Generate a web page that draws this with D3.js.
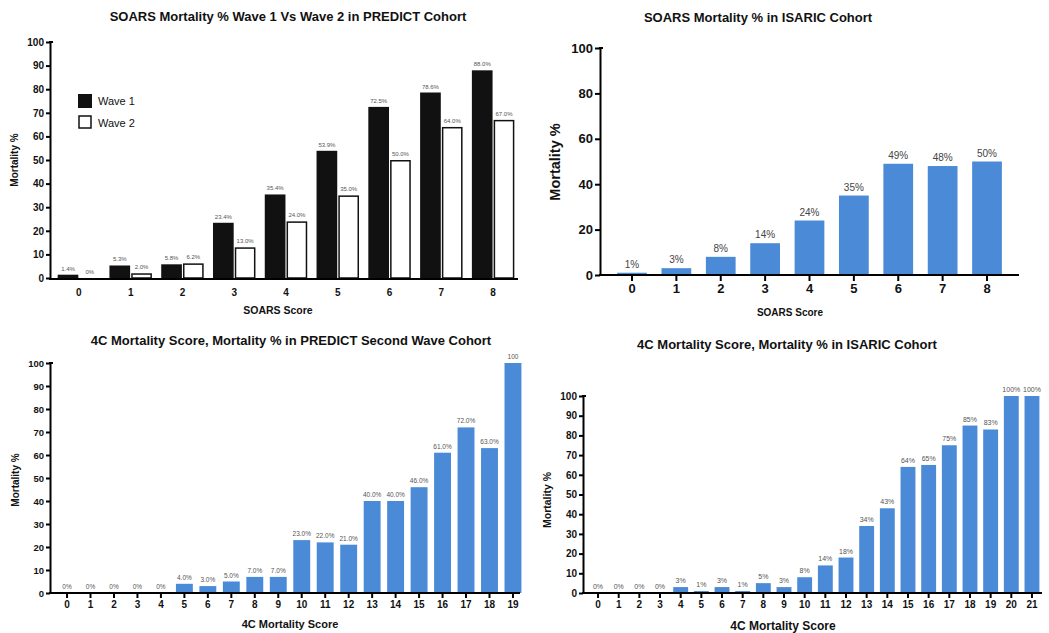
<!DOCTYPE html>
<html><head><meta charset="utf-8">
<script src="https://cdn.jsdelivr.net/npm/d3@7"></script>
<style>body{margin:0;background:#fff;} svg{display:block;}</style>
</head><body>
<svg id="c" width="1049" height="633"></svg>
<script>
// ---------- DATA ----------
const soarsScores = ["0","1","2","3","4","5","6","7","8"];
const predictWave1 = [1.4, 5.3, 5.8, 23.4, 35.4, 53.9, 72.5, 78.6, 88.0];
const predictWave2 = [0, 2.0, 6.2, 13.0, 24.0, 35.0, 50.0, 64.0, 67.0];
const predictWave1Labels = ["1.4%","5.3%","5.8%","23.4%","35.4%","53.9%","72.5%","78.6%","88.0%"];
const predictWave2Labels = ["0%","2.0%","6.2%","13.0%","24.0%","35.0%","50.0%","64.0%","67.0%"];
const isaricSoars = [1, 3, 8, 14, 24, 35, 49, 48, 50];
const isaricSoarsLabels = ["1%","3%","8%","14%","24%","35%","49%","48%","50%"];
const fourCScoresPredict = d3.range(0, 20).map(String);
const predict4C = [0,0,0,0,0,4.0,3.0,5.0,7.0,7.0,23.0,22.0,21.0,40.0,40.0,46.0,61.0,72.0,63.0,100];
const predict4CLabels = ["0%","0%","0%","0%","0%","4.0%","3.0%","5.0%","7.0%","7.0%","23.0%","22.0%","21.0%","40.0%","40.0%","46.0%","61.0%","72.0%","63.0%","100"];
const fourCScoresIsaric = d3.range(0, 22).map(String);
const isaric4C = [0,0,0,0,3,1,3,1,5,3,8,14,18,34,43,64,65,75,85,83,100,100];
const isaric4CLabels = ["0%","0%","0%","0%","3%","1%","3%","1%","5%","3%","8%","14%","18%","34%","43%","64%","65%","75%","85%","83%","100%","100%"];
const ticks10 = d3.range(0, 101, 10);
const ticks20 = d3.range(0, 101, 20);

// ---------- DRAW ----------
const svg = d3.select("#c");
const FONT = "'Liberation Sans', Arial, sans-serif";
const BLUE = "#4a8ad6";

function yAxisDraw(g, y, x0, tickVals, fs, tickLen) {
  const ax = d3.axisLeft(y).tickValues(tickVals).tickSize(tickLen).tickPadding(2).tickSizeOuter(0);
  const a = g.append("g").attr("transform", `translate(${x0},0)`).call(ax);
  a.select(".domain").attr("stroke", "#000").attr("stroke-width", 2);
  a.selectAll(".tick line").attr("stroke", "#000").attr("stroke-width", 2);
  a.selectAll(".tick text").attr("font-family", FONT).attr("font-weight", "bold")
    .attr("font-size", fs).attr("fill", "#111");
  g.append("line").attr("x1", x0 - 1).attr("x2", x0 + 3).attr("y1", y(100)).attr("y2", y(100))
    .attr("stroke", "#000").attr("stroke-width", 2);
  return a;
}

function xAxisDraw(g, x, y0, xStart, xEnd, fs, tickLen, pad) {
  const ax = d3.axisBottom(x).tickSize(tickLen).tickPadding(pad).tickSizeOuter(0);
  const a = g.append("g").attr("transform", `translate(0,${y0})`).call(ax);
  a.select(".domain").remove();
  a.selectAll(".tick line").attr("stroke", "#000").attr("stroke-width", 2);
  a.selectAll(".tick text").attr("font-family", FONT).attr("font-weight", "bold")
    .attr("font-size", fs).attr("fill", "#111");
  g.append("line").attr("x1", xStart - 1).attr("x2", xEnd).attr("y1", y0).attr("y2", y0)
    .attr("stroke", "#000").attr("stroke-width", 2);
  return a;
}

function text(g, x, y, s, fs, opts = {}) {
  const t = g.append("text").attr("x", x).attr("y", y).text(s)
    .attr("font-family", opts.family || FONT).attr("font-size", fs)
    .attr("font-weight", opts.weight || "bold").attr("fill", opts.fill || "#111")
    .attr("text-anchor", opts.anchor || "middle");
  if (opts.rotate) t.attr("transform", `rotate(-90,${x},${y})`);
  return t;
}

// ===== Chart A: SOARS PREDICT wave 1 vs wave 2 =====
{
  const g = svg.append("g");
  const y = d3.scaleLinear().domain([0, 100]).range([278, 42]);
  const x = d3.scaleBand().domain(soarsScores).range([53, 519]).paddingInner(0.18).paddingOuter(0.09);
  const xs = d3.scaleBand().domain(["w1", "w2"]).range([0, x.bandwidth()]).paddingInner(0.05);
  const rows = soarsScores.map((s, i) => ({ s, w1: predictWave1[i], w2: predictWave2[i], l1: predictWave1Labels[i], l2: predictWave2Labels[i] }));
  g.selectAll(".w1").data(rows).join("rect")
    .attr("x", d => x(d.s) + xs("w1")).attr("width", xs.bandwidth())
    .attr("y", d => y(d.w1)).attr("height", d => y(0) - y(d.w1))
    .attr("fill", "#111");
  g.selectAll(".w2").data(rows.filter(d => d.w2 > 0)).join("rect")
    .attr("x", d => x(d.s) + xs("w2") + 0.75).attr("width", xs.bandwidth() - 1.5)
    .attr("y", d => y(d.w2) + 0.75).attr("height", d => Math.max(0, y(0) - y(d.w2) - 0.75))
    .attr("fill", "#fff").attr("stroke", "#111").attr("stroke-width", 1.5);
  g.selectAll(".l1").data(rows).join("text")
    .attr("x", d => x(d.s) + xs("w1") + xs.bandwidth() / 2).attr("y", d => y(d.w1) - 4)
    .attr("text-anchor", "middle").attr("font-family", FONT).attr("font-size", 6)
    .attr("fill", "#555").text(d => d.l1);
  g.selectAll(".l2").data(rows).join("text")
    .attr("x", d => x(d.s) + xs("w2") + xs.bandwidth() / 2).attr("y", d => y(d.w2) - 4)
    .attr("text-anchor", "middle").attr("font-family", FONT).attr("font-size", 6)
    .attr("fill", "#555").text(d => d.l2);
  yAxisDraw(g, y, 50, ticks10, 10, 4);
  xAxisDraw(g, x, 279, 50, 518, 10, 0, 10);
  g.append("rect").attr("x", 78).attr("y", 94).attr("width", 14).attr("height", 14).attr("fill", "#111");
  g.append("rect").attr("x", 79).attr("y", 116).attr("width", 12).attr("height", 12).attr("fill", "#fff").attr("stroke", "#111").attr("stroke-width", 1.5);
  text(g, 98, 105, "Wave 1", 11, { anchor: "start", weight: "normal" });
  text(g, 98, 127, "Wave 2", 11, { anchor: "start", weight: "normal" });
  text(g, 288, 21, "SOARS Mortality % Wave 1 Vs Wave 2 in PREDICT Cohort", 13);
  text(g, 278, 314, "SOARS Score", 10.5);
  text(g, 18, 160, "Mortality %", 10, { rotate: true });
}

// ===== Chart B: SOARS ISARIC =====
{
  const g = svg.append("g");
  const y = d3.scaleLinear().domain([0, 100]).range([275, 48]);
  const x = d3.scaleBand().domain(soarsScores).range([609.8, 1009.2]).paddingInner(0.33).paddingOuter(0.165);
  const rows = soarsScores.map((s, i) => ({ s, v: isaricSoars[i], l: isaricSoarsLabels[i] }));
  g.selectAll("rect.b").data(rows).join("rect").attr("class", "b")
    .attr("x", d => x(d.s)).attr("width", x.bandwidth())
    .attr("y", d => y(d.v)).attr("height", d => y(0) - y(d.v)).attr("fill", BLUE);
  g.selectAll("text.l").data(rows).join("text").attr("class", "l")
    .attr("x", d => x(d.s) + x.bandwidth() / 2).attr("y", d => y(d.v) - 5)
    .attr("text-anchor", "middle").attr("font-family", FONT).attr("font-size", 10)
    .attr("fill", "#444").text(d => d.l);
  yAxisDraw(g, y, 600, ticks20, 13, 5);
  xAxisDraw(g, x, 275, 600, 1019, 13, 6, 3);
  text(g, 758, 22, "SOARS Mortality % in ISARIC Cohort", 13);
  text(g, 790, 316, "SOARS Score", 10);
  text(g, 560, 162, "Mortality %", 14.5, { rotate: true });
}

// ===== Chart C: 4C PREDICT second wave =====
{
  const g = svg.append("g");
  const y = d3.scaleLinear().domain([0, 100]).range([593, 363]);
  const x = d3.scaleBand().domain(fourCScoresPredict).range([55.3, 524.7]).paddingInner(0.28).paddingOuter(0.14);
  const rows = fourCScoresPredict.map((s, i) => ({ s, v: predict4C[i], l: predict4CLabels[i] }));
  g.selectAll("rect.b").data(rows).join("rect").attr("class", "b")
    .attr("x", d => x(d.s)).attr("width", x.bandwidth())
    .attr("y", d => y(d.v)).attr("height", d => y(0) - y(d.v)).attr("fill", BLUE);
  g.selectAll("text.l").data(rows).join("text").attr("class", "l")
    .attr("x", d => x(d.s) + x.bandwidth() / 2).attr("y", d => y(d.v) - 4)
    .attr("text-anchor", "middle").attr("font-family", FONT).attr("font-size", 6.5)
    .attr("fill", "#555").text(d => d.l);
  yAxisDraw(g, y, 50, ticks10, 9.5, 4);
  xAxisDraw(g, x, 593, 50, 520, 10, 5, 3);
  text(g, 291, 345, "4C Mortality Score, Mortality % in PREDICT Second Wave Cohort", 13);
  text(g, 290, 628, "4C Mortality Score", 11);
  text(g, 19, 480, "Mortality %", 10, { rotate: true });
}

// ===== Chart D: 4C ISARIC =====
{
  const g = svg.append("g");
  const y = d3.scaleLinear().domain([0, 100]).range([593, 396]);
  const x = d3.scaleBand().domain(fourCScoresIsaric).range([587.7, 1042.3]).paddingInner(0.28).paddingOuter(0.14);
  const rows = fourCScoresIsaric.map((s, i) => ({ s, v: isaric4C[i], l: isaric4CLabels[i] }));
  g.selectAll("rect.b").data(rows).join("rect").attr("class", "b")
    .attr("x", d => x(d.s)).attr("width", x.bandwidth())
    .attr("y", d => y(d.v)).attr("height", d => y(0) - y(d.v)).attr("fill", BLUE);
  g.selectAll("text.l").data(rows).join("text").attr("class", "l")
    .attr("x", d => x(d.s) + x.bandwidth() / 2).attr("y", d => y(d.v) - 4)
    .attr("text-anchor", "middle").attr("font-family", FONT).attr("font-size", 7)
    .attr("fill", "#555").text(d => d.l);
  yAxisDraw(g, y, 583, ticks10, 10, 4);
  xAxisDraw(g, x, 593, 583, 1042, 10, 5, 3);
  text(g, 787, 349, "4C Mortality Score, Mortality % in ISARIC Cohort", 13);
  text(g, 783, 630, "4C Mortality Score", 12);
  text(g, 551, 500, "Mortality %", 10.5, { rotate: true });
}
</script>
</body></html>
